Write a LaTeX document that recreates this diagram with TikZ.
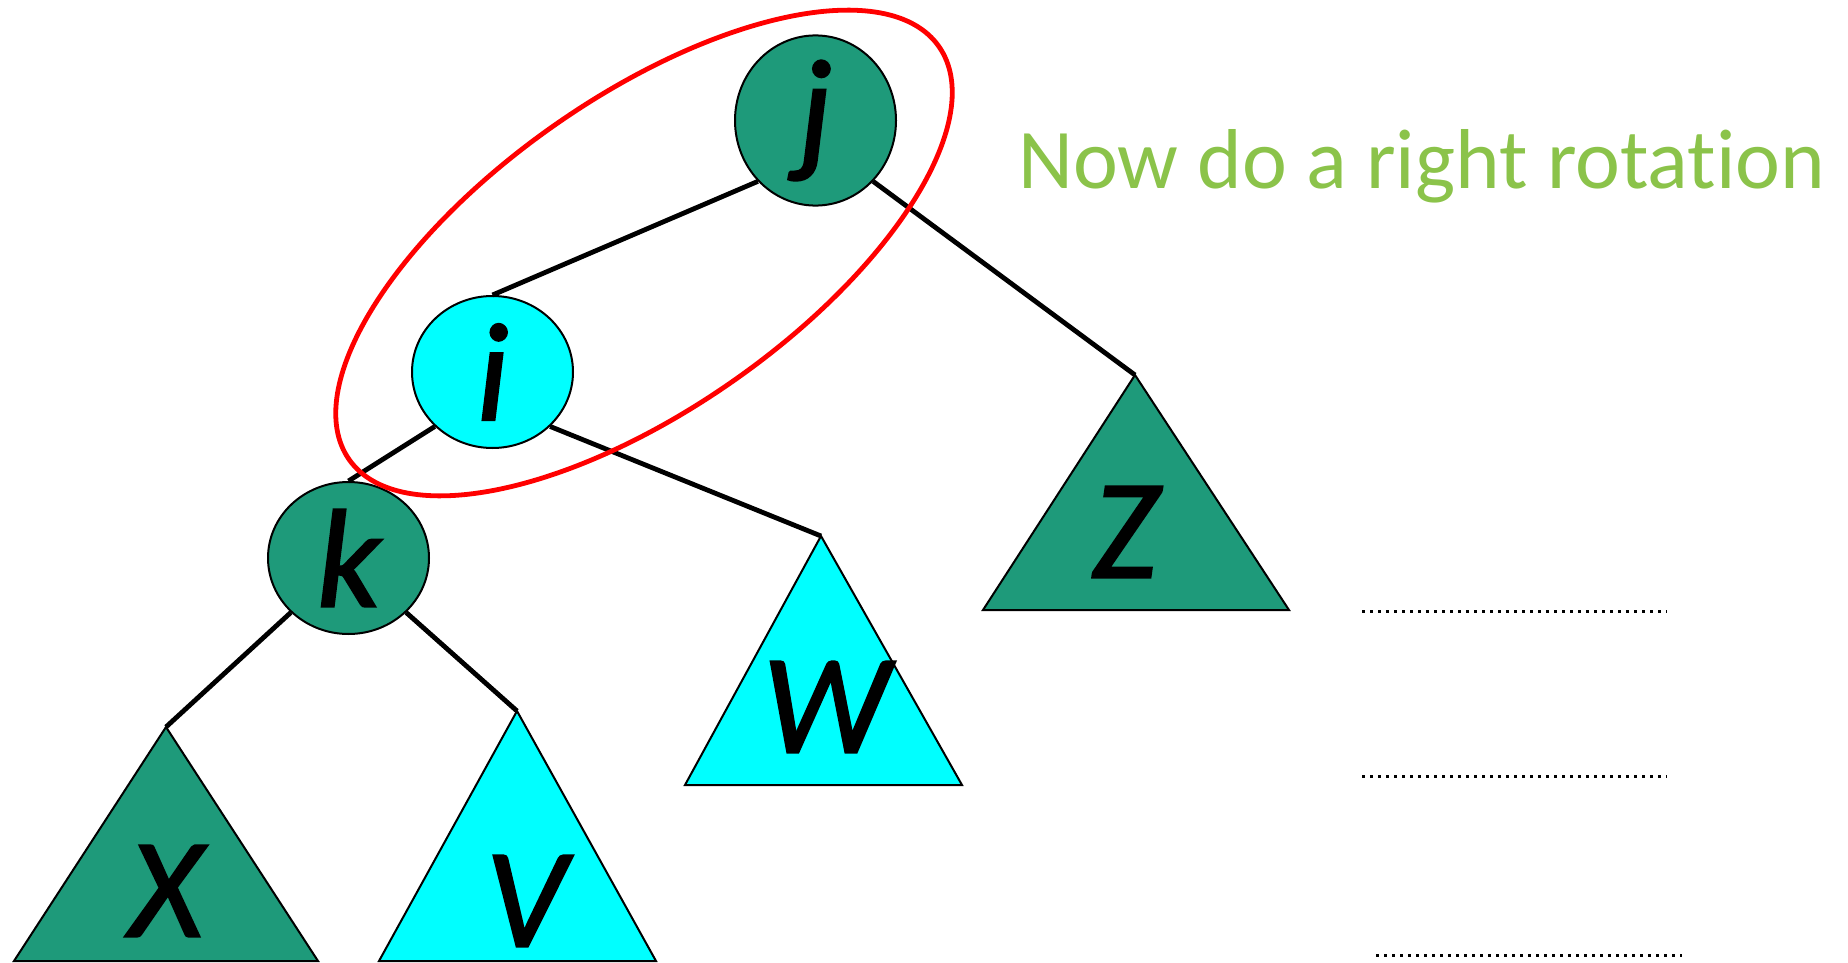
\documentclass[tikz,border=0pt]{standalone}
\usepackage{fontspec}
\setmainfont{Carlito}[Ligatures=NoCommon]
\newfontfamily\keyfont{Carlito}[FakeBold=1.5]
\usepackage{tikz}
\usetikzlibrary{shapes.geometric}
\definecolor{treegreen}{RGB}{30,154,122}
\definecolor{treecyan}{RGB}{0,255,255}
\definecolor{notegreen}{RGB}{139,195,74}
\definecolor{loopred}{RGB}{255,0,0}
\tikzset{
  keynode/.style={ellipse, draw=black, line width=1pt,
    minimum width=80.5pt, minimum height=76pt, inner sep=0pt,
    font=\fontsize{70}{84}\keyfont\itshape},
  greenkey/.style={keynode, fill=treegreen},
  cyankey/.style={keynode, fill=treecyan},
  subtree/.style={draw=black, line width=1pt, line join=miter},
  treelabel/.style={inner sep=0pt, font=\fontsize{71}{85}\keyfont\itshape},
  branch/.style={line width=2.4pt, color=black},
  dotline/.style={line width=1.5pt, dash pattern=on 1.5pt off 2.5pt},
  loopline/.style={draw=loopred, line width=2.4pt}
}

\begin{document}
\begin{tikzpicture}[x=0.5pt, y=-0.5pt]
  \useasboundingbox (0,0) rectangle (1848,963);
  % keys
  \node[greenkey] (j) at (815.5,120.5) {j};
  \node[cyankey] (i) at (492.5,372) {i};
  \node[greenkey] (k) at (348.5,558) {k};
  % subtree tops
  \coordinate (xtop) at (166,727);
  \coordinate (vtop) at (517,711);
  \coordinate (wtop) at (821,536);
  \coordinate (ztop) at (1135,375);
  \draw[branch] (j.south west) -- (i.north);
  \draw[branch] (j.south east) -- (ztop);
  \draw[branch] (i.south west) -- (k.north);
  \draw[branch] (i.south east) -- (wtop);
  \draw[branch] (k.south west) -- (xtop);
  \draw[branch] (k.south east) -- (vtop);
  % subtrees
  \draw[subtree, fill=treegreen] (xtop) -- (14,961) -- (318,961) -- cycle;
  \draw[subtree, fill=treecyan] (vtop) -- (379,961) -- (656,961) -- cycle;
  \draw[subtree, fill=treecyan] (wtop) -- (685,785) -- (962,785) -- cycle;
  \draw[subtree, fill=treegreen] (ztop) -- (983,610) -- (1289,610) -- cycle;
  \node[treelabel] (xlab) at (166,891) {X};
  \node[treelabel] (vlab) at (526,901) {V};
  \node[treelabel] (wlab) at (826,707) {W};
  \node[treelabel] (zlab) at (1125,532) {Z};
  % note and blanks
  \node[anchor=base west, inner sep=0pt, text=notegreen,
    font=\fontsize{42.5}{50}\selectfont] (note) at (1018,189) {Now do a right rotation};
  \draw[dotline] (1362,611) -- (1667,611);
  \draw[dotline] (1362,776) -- (1667,776);
  \draw[dotline] (1376,955) -- (1682,955);
  % rotated pair
  \draw[loopline] (644,253) ellipse [x radius=360, y radius=156, rotate=35];
\end{tikzpicture}
\end{document}
